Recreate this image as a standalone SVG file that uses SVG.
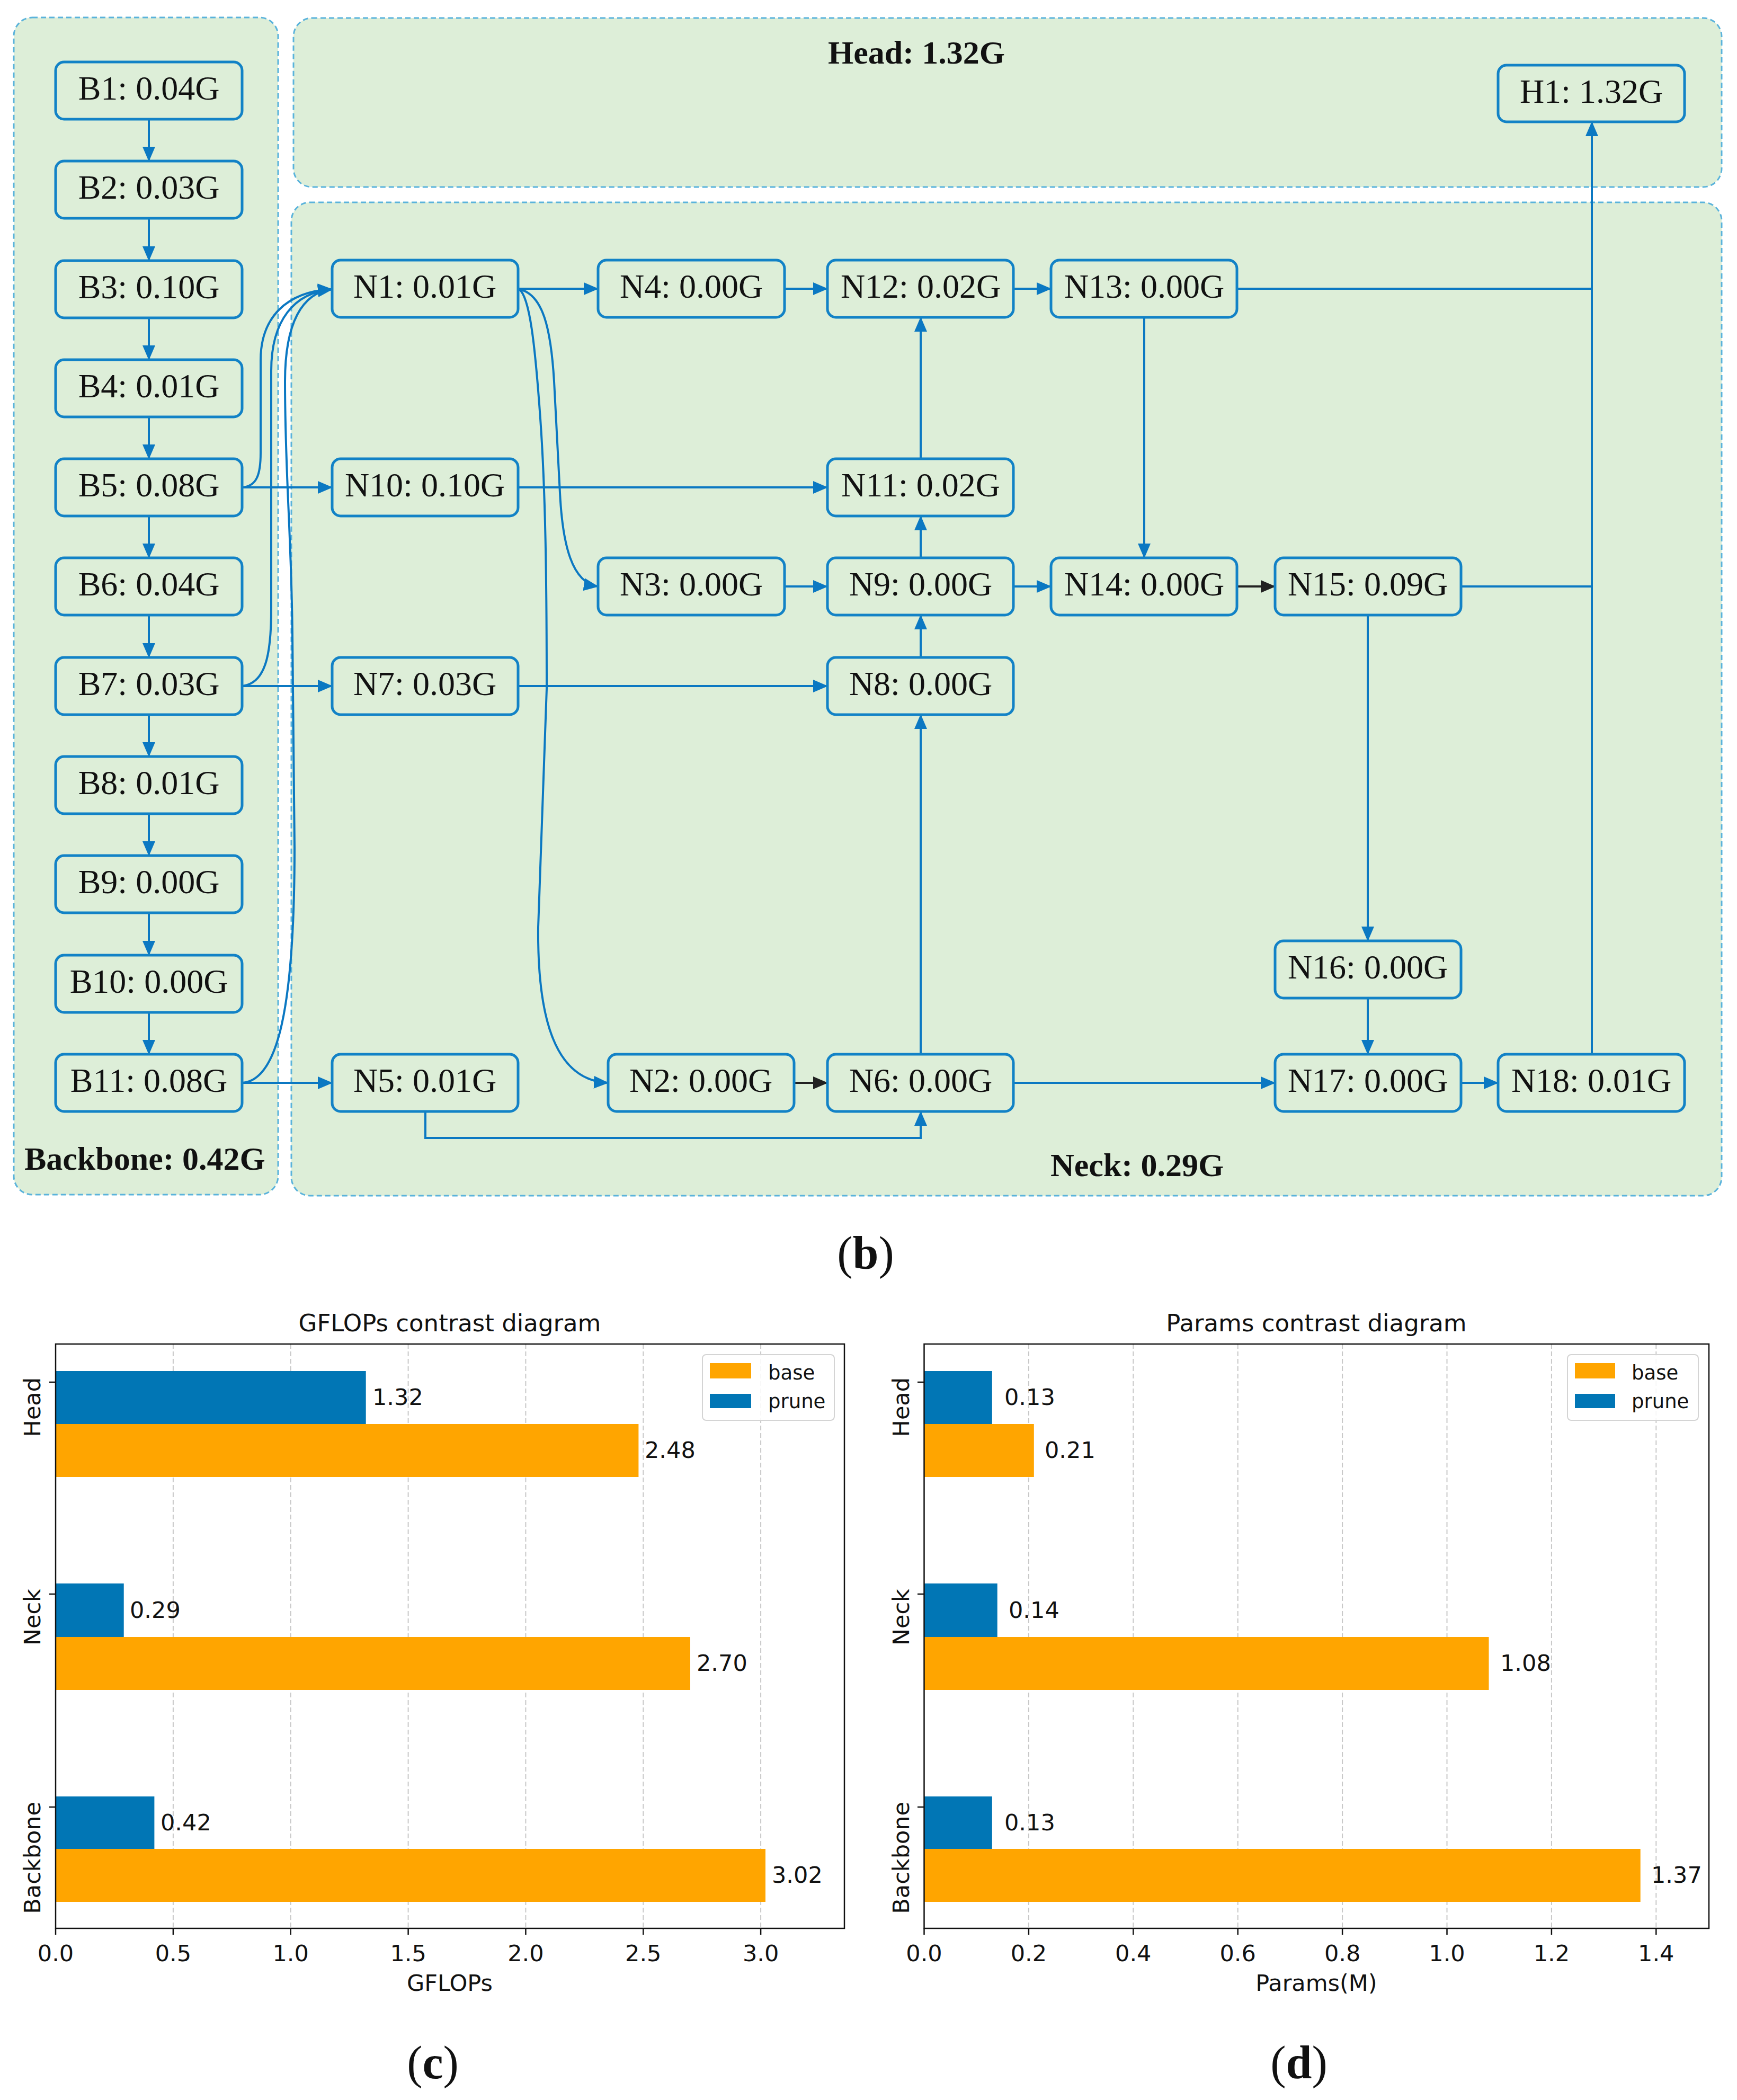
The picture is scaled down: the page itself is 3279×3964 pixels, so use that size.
<svg xmlns="http://www.w3.org/2000/svg" width="3279" height="3964" viewBox="0 0 3279 3964">
<style>
.cont{fill:#ddeed8;stroke:#5ab3db;stroke-width:3;stroke-dasharray:10 6}
.node rect{fill:#ddeed8;stroke:#1282c6;stroke-width:5}
.node text{font-family:"Liberation Serif",serif;font-size:64px;text-anchor:middle;fill:#111}
.glabel{font-family:"Liberation Serif",serif;font-size:62px;font-weight:bold;fill:#111}
.edge{fill:none;stroke:#0b78c2;stroke-width:4}
.blk{stroke:#222}
.cap{font-family:"Liberation Serif",serif;font-size:88px;text-anchor:middle;fill:#111}
.ct{font-family:"DejaVu Sans",sans-serif;font-size:43px;fill:#111}
.tt{font-family:"DejaVu Sans",sans-serif;font-size:45px;fill:#111;text-anchor:middle}
.lg{font-family:"DejaVu Sans",sans-serif;font-size:37px;fill:#111}
.mid{text-anchor:middle}
.grid{stroke:#c8c8c8;stroke-width:2;stroke-dasharray:9 5}
.frame{fill:none;stroke:#111;stroke-width:2.5}
.tick{stroke:#111;stroke-width:2.5}
.base{fill:#ffa500}
.prune{fill:#0176b5}
</style>
<defs>
<marker id="ab" viewBox="0 0 28 24" refX="27" refY="12" markerWidth="28" markerHeight="24" markerUnits="userSpaceOnUse" orient="auto"><path d="M0,0 L28,12 L0,24 z" fill="#0b78c2"/></marker>
<marker id="ak" viewBox="0 0 28 24" refX="27" refY="12" markerWidth="28" markerHeight="24" markerUnits="userSpaceOnUse" orient="auto"><path d="M0,0 L28,12 L0,24 z" fill="#222"/></marker>
</defs>
<rect width="3279" height="3964" fill="#fff"/>

<g id="groups">
<rect class="cont" x="26" y="33" width="499" height="2222" rx="35"/>
<rect class="cont" x="554" y="34" width="2696" height="319" rx="35"/>
<rect class="cont" x="550" y="382" width="2700" height="1875" rx="35"/>
<text class="glabel" x="1730" y="120" text-anchor="middle">Head: 1.32G</text>
<text class="glabel" x="46" y="2208">Backbone: 0.42G</text>
<text class="glabel" x="1983" y="2220">Neck: 0.29G</text>
</g>

<g id="connectors">
<path class="edge" marker-end="url(#ab)" d="M281,225 L281,304"/>
<path class="edge" marker-end="url(#ab)" d="M281,412 L281,492"/>
<path class="edge" marker-end="url(#ab)" d="M281,600 L281,679"/>
<path class="edge" marker-end="url(#ab)" d="M281,787 L281,866"/>
<path class="edge" marker-end="url(#ab)" d="M281,974 L281,1053"/>
<path class="edge" marker-end="url(#ab)" d="M281,1161 L281,1241"/>
<path class="edge" marker-end="url(#ab)" d="M281,1349 L281,1428"/>
<path class="edge" marker-end="url(#ab)" d="M281,1536 L281,1615"/>
<path class="edge" marker-end="url(#ab)" d="M281,1723 L281,1803"/>
<path class="edge" marker-end="url(#ab)" d="M281,1911 L281,1990"/>
<path class="edge" marker-end="url(#ab)" d="M457,920 L627,920"/>
<path class="edge" marker-end="url(#ab)" d="M457,1295 L627,1295"/>
<path class="edge" marker-end="url(#ab)" d="M457,2044 L627,2044"/>
<path class="edge" marker-end="url(#ab)" d="M457,920 C485,918 492,895 492,855 L492,680 C492,600 540,550 627,546"/>
<path class="edge" marker-end="url(#ab)" d="M457,1295 C500,1290 512,1240 512,1150 L512,700 C512,605 555,552 627,546"/>
<path class="edge" marker-end="url(#ab)" d="M457,2044 C525,2040 556,1900 556,1600 L552,1200 C550,1000 538,900 538,720 C538,610 570,552 627,546"/>
<path class="edge" marker-end="url(#ab)" d="M978,545 L1129,545"/>
<path class="edge" marker-end="url(#ab)" d="M980,546 C1025,555 1040,620 1046,720 L1057,930 C1062,1030 1080,1100 1129,1107"/>
<path class="edge" marker-end="url(#ab)" d="M980,546 C1000,560 1010,650 1020,790 C1030,930 1032,1100 1032,1300 L1016,1750 C1014,1950 1060,2040 1148,2044"/>
<path class="edge" marker-end="url(#ab)" d="M1481,545 L1562,545"/>
<path class="edge" marker-end="url(#ab)" d="M1913,545 L1984,545"/>
<path class="edge" d="M2335,545 L3005,545"/>
<path class="edge" d="M2758,1107 L3005,1107"/>
<path class="edge" marker-end="url(#ab)" d="M3005,1990 L3005,230"/>
<path class="edge" marker-end="url(#ab)" d="M2160,599 L2160,1053"/>
<path class="edge" marker-end="url(#ab)" d="M978,920 L1562,920"/>
<path class="edge" marker-end="url(#ab)" d="M978,1295 L1562,1295"/>
<path class="edge" marker-end="url(#ab)" d="M1738,866 L1738,599"/>
<path class="edge" marker-end="url(#ab)" d="M1738,1053 L1738,974"/>
<path class="edge" marker-end="url(#ab)" d="M1738,1241 L1738,1161"/>
<path class="edge" marker-end="url(#ab)" d="M1738,1990 L1738,1349"/>
<path class="edge" marker-end="url(#ab)" d="M1481,1107 L1562,1107"/>
<path class="edge" marker-end="url(#ab)" d="M1913,1107 L1984,1107"/>
<path class="edge blk" marker-end="url(#ak)" d="M2335,1107 L2407,1107"/>
<path class="edge" marker-end="url(#ab)" d="M2582,1161 L2582,1776"/>
<path class="edge" marker-end="url(#ab)" d="M2582,1884 L2582,1990"/>
<path class="edge blk" marker-end="url(#ak)" d="M1499,2044 L1562,2044"/>
<path class="edge" marker-end="url(#ab)" d="M803,2098 L803,2148 L1738,2148 L1738,2098"/>
<path class="edge" marker-end="url(#ab)" d="M1913,2044 L2407,2044"/>
<path class="edge" marker-end="url(#ab)" d="M2758,2044 L2828,2044"/>
</g>

<g id="B1" class="node"><rect x="105" y="117" width="352" height="108" rx="16"/><text x="281" y="188">B1: 0.04G</text></g>
<g id="B2" class="node"><rect x="105" y="304" width="352" height="108" rx="16"/><text x="281" y="375">B2: 0.03G</text></g>
<g id="B3" class="node"><rect x="105" y="492" width="352" height="108" rx="16"/><text x="281" y="563">B3: 0.10G</text></g>
<g id="B4" class="node"><rect x="105" y="679" width="352" height="108" rx="16"/><text x="281" y="750">B4: 0.01G</text></g>
<g id="B5" class="node"><rect x="105" y="866" width="352" height="108" rx="16"/><text x="281" y="937">B5: 0.08G</text></g>
<g id="B6" class="node"><rect x="105" y="1053" width="352" height="108" rx="16"/><text x="281" y="1124">B6: 0.04G</text></g>
<g id="B7" class="node"><rect x="105" y="1241" width="352" height="108" rx="16"/><text x="281" y="1312">B7: 0.03G</text></g>
<g id="B8" class="node"><rect x="105" y="1428" width="352" height="108" rx="16"/><text x="281" y="1499">B8: 0.01G</text></g>
<g id="B9" class="node"><rect x="105" y="1615" width="352" height="108" rx="16"/><text x="281" y="1686">B9: 0.00G</text></g>
<g id="B10" class="node"><rect x="105" y="1803" width="352" height="108" rx="16"/><text x="281" y="1874">B10: 0.00G</text></g>
<g id="B11" class="node"><rect x="105" y="1990" width="352" height="108" rx="16"/><text x="281" y="2061">B11: 0.08G</text></g>

<g id="N1" class="node"><rect x="627" y="491" width="351" height="108" rx="16"/><text x="802" y="562">N1: 0.01G</text></g>
<g id="N10" class="node"><rect x="627" y="866" width="351" height="108" rx="16"/><text x="802" y="937">N10: 0.10G</text></g>
<g id="N7" class="node"><rect x="627" y="1241" width="351" height="108" rx="16"/><text x="802" y="1312">N7: 0.03G</text></g>
<g id="N5" class="node"><rect x="627" y="1990" width="351" height="108" rx="16"/><text x="802" y="2061">N5: 0.01G</text></g>
<g id="N4" class="node"><rect x="1129" y="491" width="352" height="108" rx="16"/><text x="1305" y="562">N4: 0.00G</text></g>
<g id="N3" class="node"><rect x="1129" y="1053" width="352" height="108" rx="16"/><text x="1305" y="1124">N3: 0.00G</text></g>
<g id="N2" class="node"><rect x="1148" y="1990" width="351" height="108" rx="16"/><text x="1323" y="2061">N2: 0.00G</text></g>
<g id="N12" class="node"><rect x="1562" y="491" width="351" height="108" rx="16"/><text x="1738" y="562">N12: 0.02G</text></g>
<g id="N11" class="node"><rect x="1562" y="866" width="351" height="108" rx="16"/><text x="1738" y="937">N11: 0.02G</text></g>
<g id="N9" class="node"><rect x="1562" y="1053" width="351" height="108" rx="16"/><text x="1738" y="1124">N9: 0.00G</text></g>
<g id="N8" class="node"><rect x="1562" y="1241" width="351" height="108" rx="16"/><text x="1738" y="1312">N8: 0.00G</text></g>
<g id="N6" class="node"><rect x="1562" y="1990" width="351" height="108" rx="16"/><text x="1738" y="2061">N6: 0.00G</text></g>
<g id="N13" class="node"><rect x="1984" y="491" width="351" height="108" rx="16"/><text x="2160" y="562">N13: 0.00G</text></g>
<g id="N14" class="node"><rect x="1984" y="1053" width="351" height="108" rx="16"/><text x="2160" y="1124">N14: 0.00G</text></g>
<g id="N15" class="node"><rect x="2407" y="1053" width="351" height="108" rx="16"/><text x="2582" y="1124">N15: 0.09G</text></g>
<g id="N16" class="node"><rect x="2407" y="1776" width="351" height="108" rx="16"/><text x="2582" y="1847">N16: 0.00G</text></g>
<g id="N17" class="node"><rect x="2407" y="1990" width="351" height="108" rx="16"/><text x="2582" y="2061">N17: 0.00G</text></g>
<g id="N18" class="node"><rect x="2828" y="1990" width="352" height="108" rx="16"/><text x="3004" y="2061">N18: 0.01G</text></g>
<g id="H1" class="node"><rect x="2828" y="123" width="352" height="107" rx="16"/><text x="3004" y="194">H1: 1.32G</text></g>

<text class="cap" x="1634" y="2395">(<tspan font-weight="bold">b</tspan>)</text>

<g id="chart-c">
<text class="tt" x="849" y="2513">GFLOPs contrast diagram</text>
<line class="grid" x1="326.9" y1="2537" x2="326.9" y2="3640"/>
<line class="grid" x1="548.7" y1="2537" x2="548.7" y2="3640"/>
<line class="grid" x1="770.6" y1="2537" x2="770.6" y2="3640"/>
<line class="grid" x1="992.4" y1="2537" x2="992.4" y2="3640"/>
<line class="grid" x1="1214.3" y1="2537" x2="1214.3" y2="3640"/>
<line class="grid" x1="1436.1" y1="2537" x2="1436.1" y2="3640"/>
<rect class="prune" x="105" y="2588" width="585.7" height="100"/>
<rect class="base" x="105" y="2688" width="1100.4" height="100"/>
<rect class="prune" x="105" y="2989" width="128.7" height="101"/>
<rect class="base" x="105" y="3090" width="1198" height="100"/>
<rect class="prune" x="105" y="3391" width="186.4" height="99"/>
<rect class="base" x="105" y="3490" width="1340" height="100"/>
<text class="ct" x="703" y="2652">1.32</text>
<text class="ct" x="1217" y="2752">2.48</text>
<text class="ct" x="245" y="3054">0.29</text>
<text class="ct" x="1315" y="3154">2.70</text>
<text class="ct" x="303" y="3455">0.42</text>
<text class="ct" x="1457" y="3554">3.02</text>
<rect class="frame" x="105" y="2537" width="1489" height="1103"/>
<line class="tick" x1="105" y1="3640" x2="105" y2="3652"/>
<line class="tick" x1="326.9" y1="3640" x2="326.9" y2="3652"/>
<line class="tick" x1="548.7" y1="3640" x2="548.7" y2="3652"/>
<line class="tick" x1="770.6" y1="3640" x2="770.6" y2="3652"/>
<line class="tick" x1="992.4" y1="3640" x2="992.4" y2="3652"/>
<line class="tick" x1="1214.3" y1="3640" x2="1214.3" y2="3652"/>
<line class="tick" x1="1436.1" y1="3640" x2="1436.1" y2="3652"/>
<text class="ct mid" x="105" y="3702">0.0</text>
<text class="ct mid" x="326.9" y="3702">0.5</text>
<text class="ct mid" x="548.7" y="3702">1.0</text>
<text class="ct mid" x="770.6" y="3702">1.5</text>
<text class="ct mid" x="992.4" y="3702">2.0</text>
<text class="ct mid" x="1214.3" y="3702">2.5</text>
<text class="ct mid" x="1436.1" y="3702">3.0</text>
<text class="ct mid" x="849" y="3758">GFLOPs</text>
<line class="tick" x1="93" y1="2609" x2="105" y2="2609"/>
<line class="tick" x1="93" y1="3009" x2="105" y2="3009"/>
<line class="tick" x1="93" y1="3411" x2="105" y2="3411"/>
<text class="ct" text-anchor="end" transform="translate(76,2600) rotate(-90)">Head</text>
<text class="ct" text-anchor="end" transform="translate(76,2999) rotate(-90)">Neck</text>
<text class="ct" text-anchor="end" transform="translate(76,3401) rotate(-90)">Backbone</text>
<rect x="1326" y="2557" width="249" height="124" rx="7" fill="#fff" fill-opacity="0.85" stroke="#d4d4d4" stroke-width="2"/>
<rect class="base" x="1340" y="2573" width="78" height="29"/>
<rect class="prune" x="1340" y="2631" width="78" height="27"/>
<text class="lg" x="1450" y="2604">base</text>
<text class="lg" x="1450" y="2658">prune</text>
</g>
<text class="cap" x="817" y="3923">(<tspan font-weight="bold">c</tspan>)</text>

<g id="chart-d">
<text class="tt" x="2485" y="2513">Params contrast diagram</text>
<line class="grid" x1="1941.9" y1="2537" x2="1941.9" y2="3640"/>
<line class="grid" x1="2139.3" y1="2537" x2="2139.3" y2="3640"/>
<line class="grid" x1="2336.7" y1="2537" x2="2336.7" y2="3640"/>
<line class="grid" x1="2534.1" y1="2537" x2="2534.1" y2="3640"/>
<line class="grid" x1="2731.5" y1="2537" x2="2731.5" y2="3640"/>
<line class="grid" x1="2928.9" y1="2537" x2="2928.9" y2="3640"/>
<line class="grid" x1="3126.3" y1="2537" x2="3126.3" y2="3640"/>
<rect class="prune" x="1744.5" y="2588" width="128.3" height="100"/>
<rect class="base" x="1744.5" y="2688" width="207.3" height="100"/>
<rect class="prune" x="1744.5" y="2989" width="138.2" height="101"/>
<rect class="base" x="1744.5" y="3090" width="1066" height="100"/>
<rect class="prune" x="1744.5" y="3391" width="128.3" height="99"/>
<rect class="base" x="1744.5" y="3490" width="1352.2" height="100"/>
<text class="ct" x="1896" y="2652">0.13</text>
<text class="ct" x="1972" y="2752">0.21</text>
<text class="ct" x="1904" y="3054">0.14</text>
<text class="ct" x="2832" y="3154">1.08</text>
<text class="ct" x="1896" y="3455">0.13</text>
<text class="ct" x="3117" y="3554">1.37</text>
<rect class="frame" x="1744.5" y="2537" width="1481.5" height="1103"/>
<line class="tick" x1="1744.5" y1="3640" x2="1744.5" y2="3652"/>
<line class="tick" x1="1941.9" y1="3640" x2="1941.9" y2="3652"/>
<line class="tick" x1="2139.3" y1="3640" x2="2139.3" y2="3652"/>
<line class="tick" x1="2336.7" y1="3640" x2="2336.7" y2="3652"/>
<line class="tick" x1="2534.1" y1="3640" x2="2534.1" y2="3652"/>
<line class="tick" x1="2731.5" y1="3640" x2="2731.5" y2="3652"/>
<line class="tick" x1="2928.9" y1="3640" x2="2928.9" y2="3652"/>
<line class="tick" x1="3126.3" y1="3640" x2="3126.3" y2="3652"/>
<text class="ct mid" x="1744.5" y="3702">0.0</text>
<text class="ct mid" x="1941.9" y="3702">0.2</text>
<text class="ct mid" x="2139.3" y="3702">0.4</text>
<text class="ct mid" x="2336.7" y="3702">0.6</text>
<text class="ct mid" x="2534.1" y="3702">0.8</text>
<text class="ct mid" x="2731.5" y="3702">1.0</text>
<text class="ct mid" x="2928.9" y="3702">1.2</text>
<text class="ct mid" x="3126.3" y="3702">1.4</text>
<text class="ct mid" x="2485" y="3758">Params(M)</text>
<line class="tick" x1="1732" y1="2609" x2="1744.5" y2="2609"/>
<line class="tick" x1="1732" y1="3009" x2="1744.5" y2="3009"/>
<line class="tick" x1="1732" y1="3411" x2="1744.5" y2="3411"/>
<text class="ct" text-anchor="end" transform="translate(1716,2600) rotate(-90)">Head</text>
<text class="ct" text-anchor="end" transform="translate(1716,2999) rotate(-90)">Neck</text>
<text class="ct" text-anchor="end" transform="translate(1716,3401) rotate(-90)">Backbone</text>
<rect x="2959" y="2557" width="247" height="124" rx="7" fill="#fff" fill-opacity="0.85" stroke="#d4d4d4" stroke-width="2"/>
<rect class="base" x="2973" y="2573" width="76" height="29"/>
<rect class="prune" x="2973" y="2631" width="76" height="27"/>
<text class="lg" x="3080" y="2604">base</text>
<text class="lg" x="3080" y="2658">prune</text>
</g>
<text class="cap" x="2452" y="3923">(<tspan font-weight="bold">d</tspan>)</text>
</svg>
